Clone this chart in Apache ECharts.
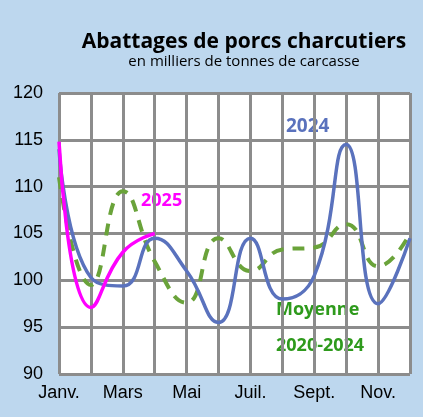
<!DOCTYPE html>
<html>
<head>
<meta charset="utf-8">
<script src="https://cdn.jsdelivr.net/npm/echarts@6/dist/echarts.min.js"></script>
<style>html,body{margin:0;padding:0;background:#bdd7ee;}#c{width:423px;height:417px;}</style>
</head>
<body>
<div id="c"></div>
<script>
var months = ["Janv.", "Févr.", "Mars", "Avr.", "Mai", "Juin", "Juil.", "Août", "Sept.", "Oct.", "Nov.", "Déc."];
var y2024 = [114, 100.3, 99.4, 104.5, 101, 95.5, 104.5, 98, 100.5, 114.5, 97.5, 104.5];
var moyenne = [111, 99.5, 109.5, 102, 97.6, 104.5, 101, 103.3, 103.5, 106, 101.5, 105];
var y2025 = [114.8, 97.1, 103, 105];

var chart = echarts.init(document.getElementById('c'));
chart.setOption({
    backgroundColor: '#bdd7ee',
    animation: false,
    title: {
        text: 'Abattages de porcs charcutiers',
        subtext: 'en milliers de tonnes de carcasse',
        left: 239, top: 27, textAlign: 'center', itemGap: 1,
        textStyle: { fontFamily: 'Open Sans', fontWeight: 'bold', fontSize: 21, color: '#000' },
        subtextStyle: { fontFamily: 'Open Sans', fontSize: 15, color: '#000' }
    },
    grid: { left: 59, right: 13, top: 93, bottom: 43 },
    xAxis: {
        type: 'category', data: months, boundaryGap: false,
        axisLine: { show: false }, axisTick: { show: false },
        axisLabel: { interval: 1, color: '#000', fontSize: 18, fontFamily: 'Liberation Sans', margin: 10 },
        splitLine: { show: true, interval: 0, lineStyle: { color: '#8c8c8c', width: 3 } }
    },
    yAxis: {
        type: 'value', min: 90, max: 120, interval: 5,
        axisLine: { show: false }, axisTick: { show: false },
        axisLabel: { color: '#000', fontSize: 18, fontFamily: 'Liberation Sans', margin: 16 },
        splitLine: { lineStyle: { color: '#8c8c8c', width: 3 } }
    },
    series: [
        { name: '2020-2024', type: 'line', data: moyenne, smooth: 0.5, symbol: 'none',
          lineStyle: { color: '#6aa33a', width: 4, type: [12, 9] }, z: 2 },
        { name: '2024', type: 'line', data: y2024, smooth: 0.5, symbol: 'none',
          lineStyle: { color: '#5a72bd', width: 3.5 }, z: 3 },
        { name: '2025', type: 'line', data: y2025, smooth: 0.5, symbol: 'none',
          lineStyle: { color: '#ff00ff', width: 3.5 }, z: 4 }
    ],
    graphic: [
        { type: 'rect', shape: { x: 59, y: 93, width: 351, height: 281 }, z: -1, silent: true,
          style: { fill: '#fff' } },
        { type: 'text', left: 286, top: 117, style: { text: '2024', fill: '#5a72bd', font: 'bold 19px "Open Sans"' } },
        { type: 'text', left: 141, top: 192, style: { text: '2025', fill: '#ff00ff', font: 'bold 18px "Open Sans"' } },
        { type: 'text', left: 276, top: 301, style: { text: 'Moyenne', fill: '#2e9a1c', font: 'bold 18px "Open Sans"' } },
        { type: 'text', left: 276, top: 337, style: { text: '2020-2024', fill: '#2e9a1c', font: 'bold 18px "Open Sans"' } }
    ]
});
</script>
</body>
</html>
